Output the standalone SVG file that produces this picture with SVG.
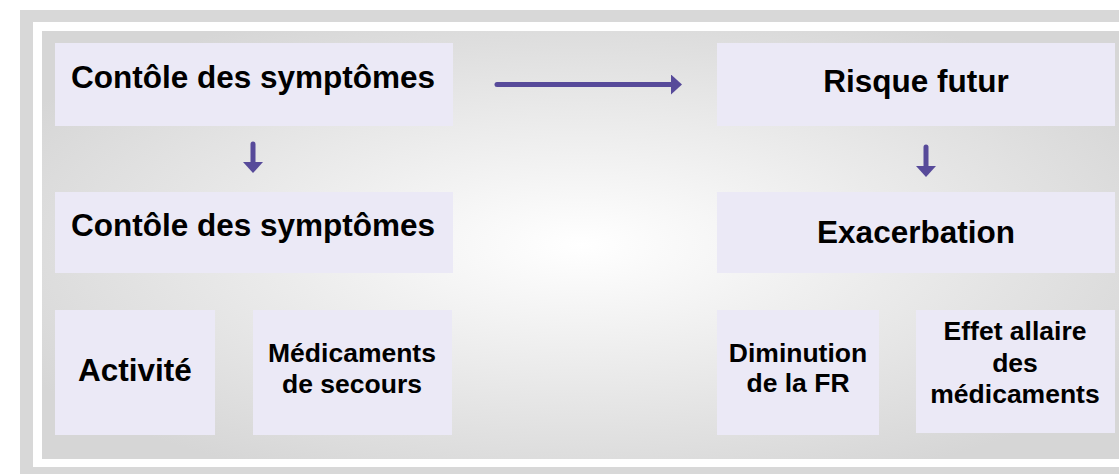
<svg xmlns="http://www.w3.org/2000/svg" width="1119" height="474" viewBox="0 0 1119 474">
<defs>
<radialGradient id="bg" cx="0.5" cy="0.5" r="0.6">
<stop offset="0" stop-color="#ffffff"/>
<stop offset="1" stop-color="#d6d6d6"/>
</radialGradient>
<marker id="ah" viewBox="0 0 11 20" refX="2" refY="10" markerWidth="11" markerHeight="20" orient="auto" markerUnits="userSpaceOnUse">
<path d="M0,0 L11,10 L0,20 z" fill="#574a9a"/>
</marker>
<style>
.box{fill:#ebe9f6}
.t{font-family:"Liberation Sans",Arial,sans-serif;font-weight:bold;fill:#000;text-anchor:middle}
.big{font-size:31.5px}
.sm{font-size:26.5px}
.c{stroke:#574a9a;stroke-width:5;stroke-linecap:round;fill:none}
</style>
</defs>
<rect x="0" y="0" width="1119" height="474" fill="#ffffff"/>
<rect x="20" y="10" width="1099" height="464" fill="#d8d8d8"/>
<rect x="33" y="22" width="1086" height="445" fill="#ffffff"/>
<rect x="42" y="31" width="1077" height="428" fill="url(#bg)"/>
<g id="n1"><rect class="box" x="55" y="43" width="398" height="83"/><text class="t big" x="253" y="88">Contôle des symptômes</text></g>
<g id="n2"><rect class="box" x="55" y="192" width="398" height="81"/><text class="t big" x="253" y="236">Contôle des symptômes</text></g>
<g id="n3"><rect class="box" x="55" y="310" width="160" height="125"/><text class="t big" x="135" y="381">Activité</text></g>
<g id="n4"><rect class="box" x="253" y="310" width="199" height="125"/><text class="t sm" x="352" y="362">Médicaments</text><text class="t sm" x="352" y="393">de secours</text></g>
<g id="n5"><rect class="box" x="717" y="43" width="398" height="83"/><text class="t big" x="916" y="92">Risque futur</text></g>
<g id="n6"><rect class="box" x="717" y="192" width="398" height="81"/><text class="t big" x="916" y="243">Exacerbation</text></g>
<g id="n7"><rect class="box" x="717" y="310" width="162" height="125"/><text class="t sm" x="798" y="362">Diminution</text><text class="t sm" x="798" y="392">de la FR</text></g>
<g id="n8"><rect class="box" x="916" y="310" width="199" height="123"/><text class="t sm" x="1015" y="340">Effet allaire</text><text class="t sm" x="1015" y="372">des</text><text class="t sm" x="1015" y="403">médicaments</text></g>
<g id="connectors">
<path class="c" d="M497,84.5 L673,84.5" marker-end="url(#ah)"/>
<path class="c" d="M253,144 L253,164" marker-end="url(#ah)"/>
<path class="c" d="M926,147 L926,168" marker-end="url(#ah)"/>
</g>
</svg>
